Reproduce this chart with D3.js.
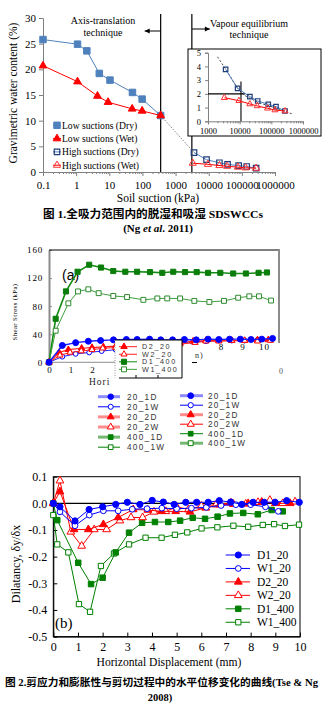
<!DOCTYPE html>
<html><head><meta charset="utf-8">
<script src="https://cdn.jsdelivr.net/npm/d3@7"></script>
<style>body{margin:0;background:#fff}svg{display:block}</style>
</head><body><script>
const SERIF="'Liberation Serif','Times New Roman',serif";
const SANS="'Liberation Sans',Arial,sans-serif";
const MIX="'Liberation Serif','Noto Sans CJK SC',serif";

// ===== Figure 1 data (Ng et al. 2011) =====
const suctionTicks=[0.1,1,10,100,1000,10000,100000,1000000];
const suctionTickLabels=["0.1","1","10","100","1000","10000","100000","1000000"];
const wcTicks=[0,5,10,15,20,25,30];
const lowDrySuction=[0.1,1.1,2.1,5,10.5,50,98,355];
const lowDryWc=[25.8,24.9,23.6,19.2,17.9,15.5,14.2,11.0];
const lowWetSuction=[0.1,1.1,4.4,9.2,49,98,355];
const lowWetWc=[20.7,17.6,14.8,13.6,12.3,11.9,11.0];
const highDrySuction=[3600,8600,21000,37000,80000,140000,270000];
const highDryWc=[3.79,2.4,1.8,1.48,1.24,1.07,0.75];
const highWetSuction=[3300,9500,21000,36000,76000,130000,270000];
const highWetWc=[1.72,1.5,1.26,1.12,0.95,0.82,0.75];
const linkSuction=[355,3600];
const linkWc=[11.0,3.79];
const techniqueBounds=[355,3100];
const insetSuctionTicks=[1000,10000,100000,1000000];
const insetSuctionLabels=["1000","10000","100000","1000000"];
const insetWcTicks=[0,1,2,3,4,5];
const trendSuction=[2000,3600,8600,14000,40000,150000,500000];
const trendWc=[4.7,3.8,2.4,1.9,1.35,0.95,0.5];
const crossHSuction=[1000,15000], crossHWc=[2,2];
const crossVSuction=[11000,11000], crossVWc=[0,2.9];
const fig1Legend=["Low suctions (Dry)","Low suctions (Wet)","High suctions (Dry)","High suctions (Wet)"];

// ===== Figure 2(a) data: shear stress (kPa) vs horizontal displacement (mm) =====
const stressTicks=[0,40,80,120,160];
const dispTicksA=[0,1,2];
const dispTicksA2=[8,9,10];
const d1_400_x=[0,0.31,0.79,1.33,1.87,2.42,2.99,3.55,4.1,4.7,5.27,5.78,6.33,6.87,7.4,7.97,8.57,9.16,9.75,10.14];
const d1_400_s=[0,62,101,129,139,135,130,129,129,128.5,127.5,129,128.5,128.5,127.5,127.5,126.5,126.5,127.5,128];
const w1_400_x=[0,0.31,0.9,1.35,1.83,2.31,2.99,3.63,4.39,5.04,5.5,6.1,6.76,7.46,8.14,8.8,9.32,9.77,10.33];
const w1_400_s=[0,45,84,101,104,98.5,94.5,93,89,91,91,91,87.5,86,87.5,92,94,94,88];
const d1_20_x=[0,0.62,1.24,1.83,2.4,3.0,3.6,4.1,4.68,5.2,5.75,6.3,6.85,7.4,7.9,8.4,8.9,9.4,9.9,10.4];
const d1_20_s=[0,24,28,30,31,32,32.5,32.5,33,32,32,32.5,32,33,32.5,33,33,32.5,33,34];
const w1_20_x=[0,0.62,1.24,1.87,2.45,3.1,3.7,4.3,4.9,5.5,6.1,6.7,7.3,7.9,8.5,9.1,9.7,10.3];
const w1_20_s=[0,8,12,14,16,18,20,22,24,26,28,29,30,31,31,31,32,32];
const d2_20_x=[0,0.47,0.9,1.52,2.0,2.53,3.1,3.7,4.3,4.9,5.5,6.1,6.7,7.3,7.9,8.5,9.1,9.7,10.2];
const d2_20_s=[0,14,18,20,21,22,23,24,25,26,27,28,30,31,31,31,31,32,32];
const w2_20_x=[0,0.51,0.98,1.5,2.0,2.5,3.1,3.7,4.3,4.9,5.5,6.1,6.8,7.3,7.9,8.5,9.1,9.7,10.3];
const w2_20_s=[0,10,14,16,18,20,21,22,23,24,25,26,28,30,30,31,31,30,31];
const legendA=["D2_20","W2_20","D1_400","W1_400"];
const legendColL=["20_1D","20_1W","20_2D","20_2W","400_1D","400_1W"];
const legendColR=["20_1D","20_1W","20_2D","20_2W","400_1D","400_1W"];

// ===== Figure 2(b) data: dilatancy vs horizontal displacement =====
const dilTicks=[-0.5,-0.4,-0.3,-0.2,-0.1,0,0.1];
const dispTicksB=[0,1,2,3,4,5,6,7,8,9,10];
const bD1_20_x=[0,0.27,0.88,1.45,2.0,2.53,3.0,3.51,4.01,4.46,4.9,5.37,5.81,6.28,6.73,7.19,7.64,8.1,8.55,8.99,9.46,9.97];
const bD1_20_y=[0,-0.013,-0.066,-0.023,-0.013,-0.004,0.004,-0.004,0.011,0.005,-0.004,0.004,0.004,0.004,0.01,0.005,-0.004,0.004,0.004,0.004,0.01,0.004];
const bW1_20_x=[0,0.27,0.88,1.46,2.03,2.63,3.2,3.8,4.4,5.0,5.6,6.2,6.8,7.4,8.0,8.6,9.12];
const bW1_20_y=[0,-0.032,-0.084,-0.044,-0.028,-0.028,-0.022,-0.02,-0.018,-0.02,-0.018,-0.015,-0.008,-0.005,-0.005,-0.013,-0.03];
const bD2_20_x=[0,0.27,0.84,1.42,2.03,2.63,3.24,3.83,4.39,4.96,5.54,6.18,6.75,7.3,7.9,8.45,9.0,9.6];
const bD2_20_y=[0,0.044,-0.098,-0.098,-0.079,-0.053,-0.023,-0.025,-0.03,-0.03,-0.032,-0.017,-0.005,-0.003,0.0,0.005,0.0,0.0];
const bW2_20_x=[0,0.27,0.71,1.15,1.66,2.16,2.7,3.15,3.62,4.08,4.56,5.0,5.48,6.0,6.6,7.2,7.8,8.3,8.78,9.3,9.8];
const bW2_20_y=[0,0.085,-0.107,-0.16,-0.098,-0.098,-0.065,-0.053,-0.053,-0.032,-0.03,-0.013,-0.023,-0.01,-0.005,0.002,-0.002,0.004,0.012,0.0,0.006];
const bD1_400_x=[0,0.16,1.01,1.53,2.0,2.53,3.07,3.6,4.12,4.66,5.14,5.65,6.15,6.66,7.16,7.7,8.29,8.85,9.3];
const bD1_400_y=[0,-0.063,-0.223,-0.303,-0.279,-0.184,-0.11,-0.073,-0.07,-0.07,-0.065,-0.054,-0.058,-0.05,-0.038,-0.036,-0.041,-0.025,-0.03];
const bW1_400_x=[0,0.16,0.61,1.04,1.49,1.93,2.46,3.07,3.74,4.39,4.93,5.43,6.01,6.65,7.3,7.9,8.49,8.95,9.39,9.96];
const bW1_400_y=[-0.044,-0.154,-0.184,-0.378,-0.407,-0.235,-0.188,-0.154,-0.129,-0.129,-0.118,-0.109,-0.094,-0.09,-0.084,-0.088,-0.081,-0.078,-0.085,-0.08];
const legendB=["D1_20","W1_20","D2_20","W2_20","D1_400","W1_400"];

// ===== helpers =====
const svg=d3.select('body').append('svg').attr('width',334).attr('height',707);
function sym(type,size){return d3.symbol().type(type).size(size)();}
function series(g,xs,ys,sx,sy,o){
  const pts=xs.map((x,i)=>[sx(x),sy(ys[i])]);
  g.append('path').attr('d',d3.line()(pts)).attr('fill','none')
   .attr('stroke',o.line).attr('stroke-width',o.lw||1).attr('stroke-dasharray',o.dash||null);
  if(o.shape){
    g.selectAll(null).data(pts).join('path')
     .attr('transform',d=>`translate(${d[0]},${d[1]})`)
     .attr('d',sym(o.shape,o.size)).attr('fill',o.fill).attr('stroke',o.stroke).attr('stroke-width',o.sw||1);
  }
}
function legendRow(g,x0,x1,mx,tx,y,st,label,font){
  g.append('line').attr('x1',x0).attr('x2',x1).attr('y1',y).attr('y2',y).attr('stroke',st.line).attr('stroke-width',st.lw||1);
  g.append('path').attr('transform',`translate(${mx},${y})`).attr('d',sym(st.shape,st.size))
   .attr('fill',st.fill).attr('stroke',st.stroke).attr('stroke-width',st.sw||1);
  const t=g.append('text').attr('x',tx).attr('y',y).attr('dy','0.35em').text(label);
  Object.entries(font).forEach(([k,v])=>t.attr(k,v));
}
function styleAxis(a,col,fs,ff,sw){
  a.select('.domain').attr('stroke',col).attr('stroke-width',sw||1);
  a.selectAll('.tick line').attr('stroke',col);
  a.selectAll('text').attr('font-size',fs).attr('font-family',ff).attr('fill','#000');
}

// ===================== FIGURE 1 =====================
const g1=svg.append('g');
const x1=d3.scaleLog().domain([0.1,1e6]).range([43,275]);
const y1=d3.scaleLinear().domain([0,30]).range([172,18]);
const ay1=g1.append('g').attr('transform','translate(43,0)')
  .call(d3.axisLeft(y1).tickValues(wcTicks).tickSize(4).tickPadding(3).tickFormat(d3.format('d')));
styleAxis(ay1,'#808080',11,SERIF);
const minor1=x1.ticks().filter(v=>!suctionTicks.includes(v));
const ax1m=g1.append('g').attr('transform','translate(0,172)')
  .call(d3.axisBottom(x1).tickValues(minor1).tickSize(2).tickFormat(''));
ax1m.select('.domain').remove(); ax1m.selectAll('.tick line').attr('stroke','#808080');
const ax1=g1.append('g').attr('transform','translate(0,172)')
  .call(d3.axisBottom(x1).tickValues(suctionTicks).tickSize(4).tickPadding(5).tickFormat((d,i)=>suctionTickLabels[i]));
styleAxis(ax1,'#808080',11,SERIF);

g1.append('text').attr('transform','translate(17,93) rotate(-90)').attr('text-anchor','middle')
  .attr('font-family',SERIF).attr('font-size',11.5).text('Gravimetric water content (%)');
g1.append('text').attr('x',158).attr('y',202).attr('text-anchor','middle')
  .attr('font-family',SERIF).attr('font-size',11.5).text('Soil suction (kPa)');

// technique boundaries
techniqueBounds.forEach(s=>{
  g1.append('line').attr('x1',x1(s)).attr('x2',x1(s)).attr('y1',14).attr('y2',y1(0)).attr('stroke','#000').attr('stroke-width',1.2);
});
function arrow(xa,xb,y){
  g1.append('line').attr('x1',xa).attr('x2',xb).attr('y1',y).attr('y2',y).attr('stroke','#000').attr('stroke-width',1);
  const d=xb>xa?1:-1;
  g1.append('path').attr('d',`M${xb},${y}L${xb-d*5},${y-2.5}L${xb-d*5},${y+2.5}Z`).attr('fill','#000');
}
arrow(x1(techniqueBounds[0]),x1(techniqueBounds[0])-16,31);
arrow(x1(techniqueBounds[1]),x1(techniqueBounds[1])+18,29);
[['Axis-translation',103,24],['technique',103,36],['Vapour equilibrium',249,26.5],['technique',249,38]].forEach(t=>{
  g1.append('text').attr('x',t[1]).attr('y',t[2]).attr('text-anchor','middle').attr('font-family',SERIF).attr('font-size',10).text(t[0]);
});

const stLowDry={line:'#4f81bd',lw:1,shape:d3.symbolSquare,size:42,fill:'#4f81bd',stroke:'#4f81bd'};
const stLowWet={line:'#ff0000',lw:1,shape:d3.symbolTriangle,size:26,fill:'#ff0000',stroke:'#ff0000'};
const stHighDry={line:'#4f81bd',lw:1,shape:d3.symbolSquare,size:30,fill:'none',stroke:'#1f3d7a',sw:1.2};
const stHighWet={line:'#ff0000',lw:1,shape:d3.symbolTriangle,size:22,fill:'none',stroke:'#ff3030',sw:1};

series(g1,linkSuction,linkWc,x1,y1,{line:'#808080',lw:1,dash:'1.5,1.5'});
series(g1,lowDrySuction,lowDryWc,x1,y1,stLowDry);
series(g1,lowWetSuction,lowWetWc,x1,y1,stLowWet);
series(g1,highDrySuction,highDryWc,x1,y1,stHighDry);
series(g1,highWetSuction,highWetWc,x1,y1,stHighWet);

// legend
[stLowDry,stLowWet,stHighDry,stHighWet].forEach((st,i)=>{
  legendRow(g1,53,61,57,62,125.3+i*13.3,st,fig1Legend[i],{'font-family':SERIF,'font-size':9.6});
});

// inset
const gi=svg.append('g');
gi.append('rect').attr('x',188).attr('y',49).attr('width',133).attr('height',87).attr('fill','#fff').attr('stroke','#000').attr('stroke-width',1);
const xi=d3.scaleLog().domain([1000,1e6]).range([208,303]);
const yi=d3.scaleLinear().domain([0,5]).range([121.3,52.7]);
const ayi=gi.append('g').attr('transform','translate(208,0)')
  .call(d3.axisLeft(yi).tickValues(insetWcTicks).tickSize(3).tickPadding(4).tickFormat(d3.format('d')));
styleAxis(ayi,'#808080',8.5,SERIF);
const minorI=xi.ticks().filter(v=>!insetSuctionTicks.includes(v));
const axim=gi.append('g').attr('transform','translate(0,121.3)')
  .call(d3.axisBottom(xi).tickValues(minorI).tickSize(2).tickFormat(''));
axim.select('.domain').remove(); axim.selectAll('.tick line').attr('stroke','#808080');
const axi=gi.append('g').attr('transform','translate(0,121.3)')
  .call(d3.axisBottom(xi).tickValues(insetSuctionTicks).tickSize(3).tickPadding(4).tickFormat((d,i)=>insetSuctionLabels[i]));
styleAxis(axi,'#808080',8.5,SERIF);
series(gi,trendSuction,trendWc,xi,yi,{line:'#333',lw:0.9,dash:'2,2'});
series(gi,crossHSuction,crossHWc,xi,yi,{line:'#000',lw:1.1});
series(gi,crossVSuction,crossVWc,xi,yi,{line:'#000',lw:1.1});
series(gi,highDrySuction,highDryWc,xi,yi,Object.assign({},stHighDry,{size:20}));
series(gi,highWetSuction,highWetWc,xi,yi,Object.assign({},stHighWet,{size:16}));

// caption 1
svg.append('text').attr('x',153).attr('y',217.5).attr('text-anchor','middle').attr('font-family',MIX)
  .attr('font-weight','bold').attr('font-size',11).attr('textLength',220).attr('lengthAdjust','spacingAndGlyphs')
  .text('图 1.全吸力范围内的脱湿和吸湿 SDSWCCs');
const cap1b=svg.append('text').attr('x',158).attr('y',232).attr('text-anchor','middle').attr('font-family',SERIF)
  .attr('font-weight','bold').attr('font-size',11);
cap1b.append('tspan').text('(Ng ');
cap1b.append('tspan').attr('font-style','italic').text('et al');
cap1b.append('tspan').text('. 2011)');

// ===================== FIGURE 2(a) =====================
const ga=svg.append('g');
const xA=d3.scaleLinear().domain([0,10.7]).range([49,279]);
const yA=d3.scaleLinear().domain([0,160]).range([362.3,250]);
const ayA=ga.append('g').attr('transform','translate(49,0)')
  .call(d3.axisLeft(yA).tickValues(stressTicks).tickSizeInner(-3).tickSizeOuter(0).tickPadding(6));
styleAxis(ayA,'#8c8c8c',9,SERIF,2);
ayA.selectAll('text').attr('letter-spacing',0.8);
ga.append('line').attr('x1',49).attr('x2',279).attr('y1',250).attr('y2',250).attr('stroke','#000');
ga.append('line').attr('x1',279).attr('x2',279).attr('y1',249).attr('y2',343).attr('stroke','#8c8c8c').attr('stroke-width',2);
ga.append('line').attr('x1',49).attr('x2',115).attr('y1',362.3).attr('y2',362.3).attr('stroke','#8c8c8c').attr('stroke-width',1);
const axA=ga.append('g').attr('transform','translate(0,362.3)')
  .call(d3.axisBottom(xA).tickValues(dispTicksA).tickSize(0).tickPadding(4));
axA.select('.domain').remove();
styleAxis(axA,'#8c8c8c',9,SERIF);
const axA2=ga.append('g').attr('transform','translate(0,339.5)')
  .call(d3.axisBottom(xA).tickValues(dispTicksA2).tickSize(0).tickPadding(4));
axA2.select('.domain').remove();
styleAxis(axA2,'#8c8c8c',9,SERIF);
axA2.selectAll('text').attr('letter-spacing',1);
ga.append('text').attr('transform','translate(17,312) rotate(-90)').attr('text-anchor','middle')
  .attr('font-family',SERIF).attr('font-size',6.8).attr('letter-spacing',0.4).text('Shear Stress (kPa)');
ga.append('text').attr('x',62).attr('y',280).attr('font-family',SANS).attr('font-size',14).text('(a)');

const stA={
  d1_400:{line:'#138a13',lw:1.6,shape:d3.symbolSquare,size:26,fill:'#0a7d0a',stroke:'#0a7d0a'},
  w1_400:{line:'#3fa03f',lw:1,shape:d3.symbolSquare,size:24,fill:'#fff',stroke:'#2e8b2e'},
  d1_20:{line:'#1f1fff',lw:1.4,shape:d3.symbolCircle,size:28,fill:'#0000ff',stroke:'#0000ff'},
  w1_20:{line:'#2020ff',lw:1,shape:d3.symbolCircle,size:18,fill:'#fff',stroke:'#0000ff'},
  d2_20:{line:'#ff2020',lw:1.2,shape:d3.symbolTriangle,size:18,fill:'#ff0000',stroke:'#ff0000'},
  w2_20:{line:'#ff2020',lw:1,shape:d3.symbolTriangle,size:16,fill:'#fff',stroke:'#ff0000'}
};
series(ga,d1_400_x,d1_400_s,xA,yA,stA.d1_400);
series(ga,w1_400_x,w1_400_s,xA,yA,stA.w1_400);
series(ga,w1_20_x,w1_20_s,xA,yA,stA.w1_20);
series(ga,d2_20_x,d2_20_s,xA,yA,stA.d2_20);
series(ga,w2_20_x,w2_20_s,xA,yA,stA.w2_20);
series(ga,d1_20_x,d1_20_s,xA,yA,stA.d1_20);

// x title fragment & overlapped legend box
ga.append('text').attr('x',89).attr('y',385).attr('font-family',SERIF).attr('font-size',9.5).attr('letter-spacing',1).attr('fill','#222').text('Hori');
ga.append('rect').attr('x',115).attr('y',340).attr('width',67).attr('height',38).attr('fill','#fff');
ga.append('path').attr('d','M115,340H182V378H119').attr('fill','none').attr('stroke','#000').attr('stroke-width',1);
ga.append('path').attr('d','M136,378V375M158,378V375').attr('stroke','#000');
ga.append('line').attr('x1',115).attr('x2',115).attr('y1',340).attr('y2',378).attr('stroke','#999').attr('stroke-dasharray','1,1.5');
[stA.d2_20,stA.w2_20,stA.d1_400,stA.w1_400].forEach((st,i)=>{
  legendRow(ga,119,137,124,142,346.7+i*7.55,Object.assign({},st,{lw:1}),legendA[i],
    {'font-family':SANS,'font-size':7.2,'letter-spacing':1.6,'fill':'#333'});
});
ga.append('text').attr('x',195).attr('y',358).attr('font-family',SERIF).attr('font-size',8).attr('letter-spacing',1).attr('fill','#333').text('n)');
ga.append('line').attr('x1',192).attr('x2',197).attr('y1',362.5).attr('y2',362.5).attr('stroke','#000');
ga.append('text').attr('x',279).attr('y',374).attr('font-family',SERIF).attr('font-size',8).attr('fill','#555').text('0');

// legend below (a)
const lightBlue='#8c8cff',lightRed='#ff8c8c',lightGreen='#74b874';
const legL=[
  {line:lightBlue,lw:3,shape:d3.symbolCircle,size:24,fill:'#0000ff',stroke:'#0000ff'},
  {line:'#0000ff',lw:1,shape:d3.symbolCircle,size:20,fill:'#fff',stroke:'#0000ff'},
  {line:lightRed,lw:3,shape:d3.symbolTriangle,size:20,fill:'#ff0000',stroke:'#ff0000'},
  {line:lightRed,lw:3,shape:d3.symbolTriangle,size:20,fill:'#fff',stroke:'#ff0000'},
  {line:lightGreen,lw:3,shape:d3.symbolSquare,size:22,fill:'#008000',stroke:'#008000'},
  {line:'#008000',lw:1,shape:d3.symbolSquare,size:22,fill:'#fff',stroke:'#008000'}
];
const legR=[
  {line:lightBlue,lw:3,shape:d3.symbolCircle,size:26,fill:'#0000ff',stroke:'#0000ff'},
  {line:'#0000ff',lw:1,shape:d3.symbolCircle,size:22,fill:'#fff',stroke:'#0000ff'},
  {line:lightRed,lw:3,shape:d3.symbolTriangle,size:22,fill:'#ff0000',stroke:'#ff0000'},
  {line:'#ff0000',lw:1,shape:d3.symbolTriangle,size:22,fill:'#fff',stroke:'#ff0000'},
  {line:'#008000',lw:1,shape:d3.symbolSquare,size:22,fill:'#008000',stroke:'#008000'},
  {line:lightGreen,lw:3,shape:d3.symbolSquare,size:24,fill:'#fff',stroke:'#008000'}
];
const legFont={'font-family':SANS,'font-size':8.2,'letter-spacing':1.3,'fill':'#333'};
legendColL.forEach((lab,i)=>legendRow(svg,98,120,110.7,127,396.7+i*10.1,legL[i],lab,legFont));
legendColR.forEach((lab,i)=>legendRow(svg,180,203,190.7,208,395.7+i*9.5,legR[i],lab,legFont));

// ===================== FIGURE 2(b) =====================
const gb=svg.append('g');
const xB=d3.scaleLinear().domain([0,10]).range([53.3,300]);
const yB=d3.scaleLinear().domain([-0.5,0.1]).range([636.6,476.7]);
gb.append('rect').attr('x',53.3).attr('y',476.7).attr('width',300-53.3).attr('height',636.6-476.7)
  .attr('fill','none').attr('stroke','#000').attr('stroke-width',1);
const minusFmt=d=>d3.format('.1f')(d).replace('\u2212','-');
const ayB=gb.append('g').attr('transform','translate(53.3,0)')
  .call(d3.axisLeft(yB).tickValues(dilTicks).tickSizeInner(-4).tickSizeOuter(0).tickPadding(6).tickFormat(minusFmt));
styleAxis(ayB,'#000',12,SERIF);
const axB=gb.append('g').attr('transform','translate(0,636.6)')
  .call(d3.axisBottom(xB).tickValues(dispTicksB).tickSizeInner(-4).tickSizeOuter(0).tickPadding(6).tickFormat(d3.format('d')));
styleAxis(axB,'#000',12,SERIF);
gb.append('line').attr('x1',xB(0)).attr('x2',xB(10)).attr('y1',yB(0)).attr('y2',yB(0)).attr('stroke','#000').attr('stroke-width',1.2);

const stB=[
  {line:'#0000ff',lw:1,shape:d3.symbolCircle,size:30,fill:'#0000ff',stroke:'#0000ff'},
  {line:'#0000ff',lw:1,shape:d3.symbolCircle,size:26,fill:'#fff',stroke:'#0000ff'},
  {line:'#ff0000',lw:1,shape:d3.symbolTriangle,size:26,fill:'#ff0000',stroke:'#ff0000'},
  {line:'#ff0000',lw:1,shape:d3.symbolTriangle,size:26,fill:'#fff',stroke:'#ff0000'},
  {line:'#008000',lw:1,shape:d3.symbolSquare,size:30,fill:'#008000',stroke:'#008000'},
  {line:'#008000',lw:1,shape:d3.symbolSquare,size:28,fill:'#fff',stroke:'#008000'}
];
series(gb,bW1_400_x,bW1_400_y,xB,yB,stB[5]);
series(gb,bD1_400_x,bD1_400_y,xB,yB,stB[4]);
series(gb,bW2_20_x,bW2_20_y,xB,yB,stB[3]);
series(gb,bD2_20_x,bD2_20_y,xB,yB,stB[2]);
series(gb,bW1_20_x,bW1_20_y,xB,yB,stB[1]);
series(gb,bD1_20_x,bD1_20_y,xB,yB,stB[0]);
legendB.forEach((lab,i)=>legendRow(gb,225.7,250,238.3,257,555+i*13.45,stB[i],lab,{'font-family':SERIF,'font-size':11.5}));
gb.append('text').attr('x',55).attr('y',628).attr('font-family',SERIF).attr('font-size',15).text('(b)');
gb.append('text').attr('transform','translate(20,564) rotate(-90)').attr('text-anchor','middle')
  .attr('font-family',SERIF).attr('font-size',12).text('Dilatancy, δy/δx');
gb.append('text').attr('x',169).attr('y',666).attr('text-anchor','middle')
  .attr('font-family',SERIF).attr('font-size',11.6).text('Horizontal Displacement (mm)');

// caption 2
svg.append('text').attr('x',5).attr('y',686).attr('font-family',MIX).attr('font-weight','bold').attr('font-size',10.5)
  .attr('textLength',313).attr('lengthAdjust','spacingAndGlyphs')
  .text('图 2.剪应力和膨胀性与剪切过程中的水平位移变化的曲线(Tse & Ng');
svg.append('text').attr('x',160).attr('y',701).attr('text-anchor','middle').attr('font-family',SERIF)
  .attr('font-weight','bold').attr('font-size',10.5).text('2008)');
</script></body></html>
